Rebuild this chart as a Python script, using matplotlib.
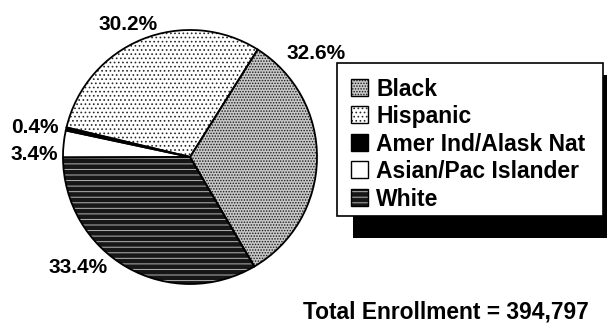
import matplotlib
matplotlib.use('Agg')
import matplotlib.pyplot as plt
from matplotlib.patches import Rectangle

plt.rcParams['font.family'] = ['Liberation Sans', 'DejaVu Sans']
plt.rcParams['hatch.linewidth'] = 0.7

# ── 数据 ──────────────────────────────────────────────────────────────────
groups = ['Black', 'Hispanic', 'Amer Ind/Alask Nat', 'Asian/Pac Islander', 'White']
shares = [32.6, 30.2, 0.4, 3.4, 33.4]          # 占总注册人数 %
total_enrollment = 394797

# 饼图里扇区的顺序（从右上方顺时针）
pie_order = [0, 4, 3, 2, 1]

# 每组的填充样式：底色、阴影线、阴影线颜色
styles = {
    'Black':              ('#c8c8c8', '......', '#1a1a1a'),
    'Hispanic':           ('#ffffff', '....', '#2a2a2a'),
    'Amer Ind/Alask Nat': ('#000000', None, '#000000'),
    'Asian/Pac Islander': ('#ffffff', None, '#000000'),
    'White':              ('#161616', '---', '#b4b4b4'),
}

W, H = 607, 324


def Y(y):
    # 以图片左上角为原点的像素坐标
    return H - y


fig = plt.figure(figsize=(W / 100, H / 100), dpi=100)
ax = fig.add_axes([0, 0, 1, 1])

cx, cy, r = 190, Y(157), 127
vals = [shares[i] for i in pie_order]

wedges, _ = ax.pie(vals, center=(cx, cy), radius=r, startangle=57.8,
                   counterclock=False, wedgeprops=dict(linewidth=0))
for w, i in zip(wedges, pie_order):
    face, hatch, hcol = styles[groups[i]]
    w.set_facecolor(face)
    w.set_edgecolor(hcol)
    w.set_linewidth(0)
    if hatch:
        w.set_hatch(hatch)

# 扇区轮廓
ax.pie(vals, center=(cx, cy), radius=r, startangle=57.8, counterclock=False,
       wedgeprops=dict(fill=False, edgecolor='black', linewidth=1.3))

# 百分比标签
label_pos = {
    'Black': (316, 59),
    'Hispanic': (128, 30),
    'Amer Ind/Alask Nat': (35, 133),
    'Asian/Pac Islander': (34, 160),
    'White': (78, 273),
}
for g, v in zip(groups, shares):
    x, yb = label_pos[g]
    ax.text(x, Y(yb), f'{v}%', ha='center', va='baseline',
            fontsize=15, fontweight='bold', color='black')

# 图例（带阴影的方框）
ax.add_patch(Rectangle((353, Y(238)), 254, 238 - 75, facecolor='black',
                       edgecolor='none', zorder=3))
ax.add_patch(Rectangle((337, Y(216)), 266, 216 - 63, facecolor='white',
                       edgecolor='black', linewidth=1.2, zorder=4))
for k, g in enumerate(groups):
    yb = 96 + k * 27.5
    face, hatch, hcol = styles[g]
    sw = Rectangle((351, Y(yb - 0.5)), 17, 17, facecolor=face, edgecolor=hcol,
                   linewidth=0, hatch=hatch, zorder=5)
    ax.add_patch(sw)
    ax.add_patch(Rectangle((351, Y(yb - 0.5)), 17, 17, fill=False,
                           edgecolor='black', linewidth=1.0, zorder=6))
    ax.text(376, Y(yb), g, ha='left', va='baseline', fontsize=16.5,
            fontweight='bold', color='black', zorder=6)

ax.text(303, Y(318), f'Total Enrollment = {total_enrollment:,}', ha='left',
        va='baseline', fontsize=16.4, fontweight='bold', color='black')

ax.set_xlim(0, W)
ax.set_ylim(0, H)
ax.set_aspect('auto')
ax.axis('off')

fig.savefig('out.png', dpi=100)
plt.close(fig)
